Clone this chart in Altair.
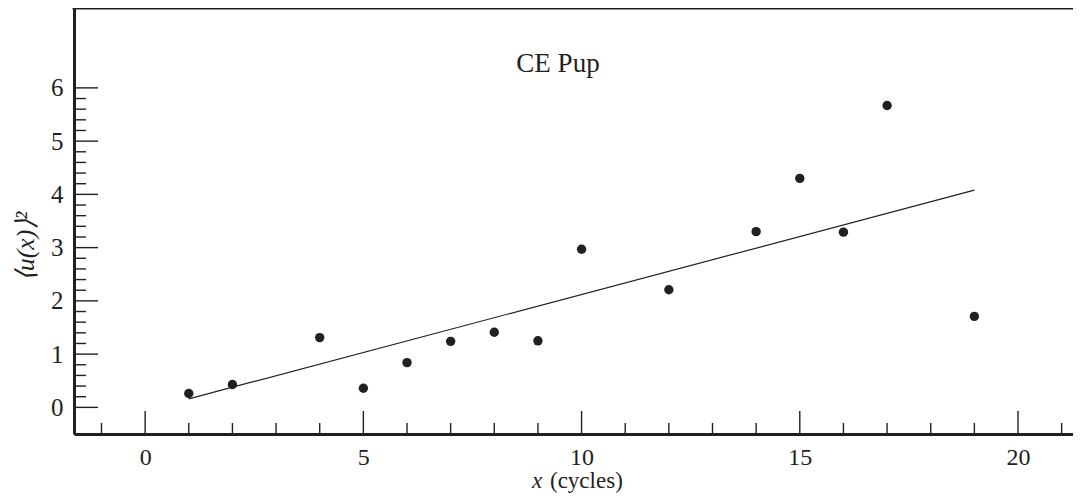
import altair as alt
import pandas as pd

# Observed points
cycles = [1, 2, 4, 5, 6, 7, 8, 9, 10, 12, 14, 15, 16, 17, 19]
u2 = [0.26, 0.43, 1.31, 0.36, 0.84, 1.24, 1.41, 1.25, 2.97, 2.21, 3.30, 4.30, 3.29, 5.67, 1.71]

# Linear fit endpoints
fit_x = [1, 19]
fit_y = [0.16, 4.08]

# Axis ticks
x_major = [0, 5, 10, 15, 20]
x_minor = [-1, 1, 2, 3, 4, 6, 7, 8, 9, 11, 12, 13, 14, 16, 17, 18, 19, 21]
y_major = [0, 1, 2, 3, 4, 5, 6]
y_minor = [round(i * 0.2, 1) for i in range(1, 30) if i % 5 != 0]

INK = "#231f20"
FONT = "Liberation Serif"
W, H = 999, 426
XDOM = [-1.63, 21.26]
YDOM = [-0.5, 7.5]

xs = alt.Scale(domain=XDOM, nice=False, zero=False)
ys = alt.Scale(domain=YDOM, nice=False, zero=False)

pts_df = pd.DataFrame({"x": cycles, "y": u2})
fit_df = pd.DataFrame({"x": fit_x, "y": fit_y})

base_axes = alt.Chart(pts_df).mark_point(opacity=0).encode(
    x=alt.X("x:Q", scale=xs, axis=alt.Axis(
        values=x_major, ticks=False, grid=False, title=None,
        domainColor=INK, domainWidth=3, labelFont=FONT, labelFontSize=24,
        labelColor=INK, labelPadding=11, labelFlush=False)),
    y=alt.Y("y:Q", scale=ys, axis=alt.Axis(
        values=y_major, ticks=False, grid=False, title="⟨u(x)⟩²",
        titleFont=FONT, titleFontSize=26, titleFontStyle="italic", titleFontWeight="normal",
        titleColor=INK, titleAngle=270, titleX=-49, titleY=238, titleAlign="center",
        titleBaseline="middle",
        domainColor=INK, domainWidth=3, labelFont=FONT, labelFontSize=25,
        labelColor=INK, labelPadding=11, labelFlush=False)),
)

points = alt.Chart(pts_df).mark_circle(size=88, color=INK, opacity=1).encode(
    x=alt.X("x:Q", scale=xs), y=alt.Y("y:Q", scale=ys))

fit = alt.Chart(fit_df).mark_line(color=INK, strokeWidth=1.2).encode(
    x=alt.X("x:Q", scale=xs), y=alt.Y("y:Q", scale=ys))

xmaj = alt.Chart(pd.DataFrame({"x": x_major})).mark_rule(color=INK, strokeWidth=1.4).encode(
    x=alt.X("x:Q", scale=xs), y=alt.value(H), y2=alt.value(H - 23))
xmin = alt.Chart(pd.DataFrame({"x": x_minor})).mark_rule(color=INK, strokeWidth=1.4).encode(
    x=alt.X("x:Q", scale=xs), y=alt.value(H), y2=alt.value(H - 11))
ymaj = alt.Chart(pd.DataFrame({"y": y_major})).mark_rule(color=INK, strokeWidth=1.4).encode(
    y=alt.Y("y:Q", scale=ys), x=alt.value(0), x2=alt.value(24))
ymin = alt.Chart(pd.DataFrame({"y": y_minor})).mark_rule(color=INK, strokeWidth=1.4).encode(
    y=alt.Y("y:Q", scale=ys), x=alt.value(0), x2=alt.value(12))

top_line = alt.Chart(pd.DataFrame({"a": [0]})).mark_rule(color=INK, strokeWidth=3).encode(
    y=alt.value(0), x=alt.value(-1.5), x2=alt.value(W))

label_df = pd.DataFrame({"t": ["CE Pup"]})
ce = alt.Chart(label_df).mark_text(font=FONT, fontSize=27, color=INK, align="center",
                                   baseline="alphabetic").encode(
    text="t:N", x=alt.value(484), y=alt.value(64))

xt1 = alt.Chart(pd.DataFrame({"t": ["x"]})).mark_text(
    font=FONT, fontSize=23, fontStyle="italic", color=INK, align="left",
    baseline="alphabetic").encode(text="t:N", x=alt.value(458), y=alt.value(480))
xt2 = alt.Chart(pd.DataFrame({"t": ["(cycles)"]})).mark_text(
    font=FONT, fontSize=23, color=INK, align="left",
    baseline="alphabetic").encode(text="t:N", x=alt.value(476), y=alt.value(480))

chart = alt.layer(base_axes, xmin, xmaj, ymin, ymaj, fit, points, top_line, ce, xt1, xt2).properties(
    width=W, height=H,
    autosize=alt.AutoSizeParams(type="none"),
    padding={"left": 66, "top": 0, "right": 0, "bottom": 59},
).configure_view(stroke=None).configure(background="white")

chart.save("out.html", embed_options={"renderer": "svg", "actions": False})
